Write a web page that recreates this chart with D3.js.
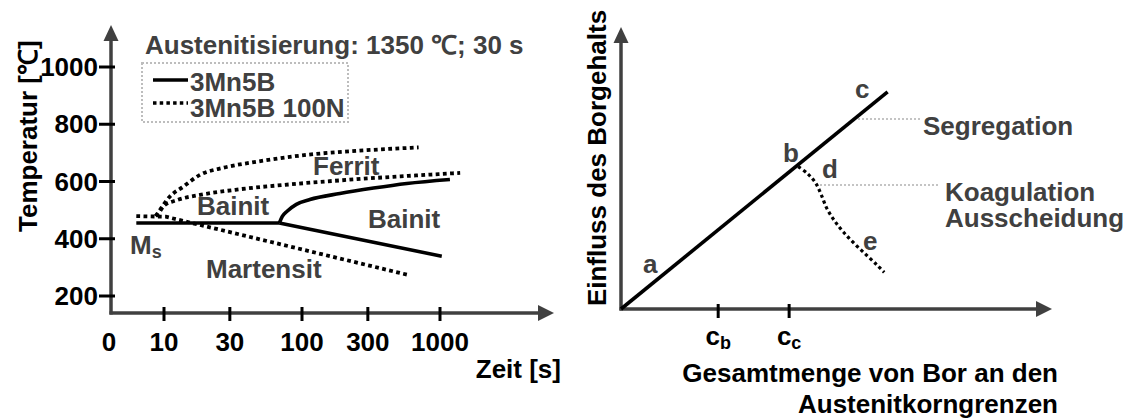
<!DOCTYPE html>
<html>
<head>
<meta charset="utf-8">
<script src="https://cdn.jsdelivr.net/npm/d3@7"></script>
<style>
  html, body { margin: 0; padding: 0; background: #fff; }
  svg { display: block; }
  text { font-family: "Liberation Sans", Arial, sans-serif; font-weight: bold; }
</style>
</head>
<body>
<svg id="chart" width="1130" height="419"></svg>
<script>
// ---- Left panel: ZTU diagram, time (log) vs. temperature ----
const timeTicks = [10, 30, 100, 300, 1000];
const tempTicks = [200, 400, 600, 800, 1000];

// 3Mn5B (solid): [time s, temperature °C]
const solidPlateau = [[6.3, 455], [68.5, 455]];
const solidFerrit = [[68.5, 455], [72, 478], [78, 496], [91, 520], [114, 537], [188, 558], [330, 577], [575, 593], [1180, 607]];
const solidMartensit = [[68.5, 455], [1030, 339]];

// 3Mn5B 100N (dotted)
const dottedMartensit = [[6.3, 479], [10.3, 477], [607, 272]];
const dottedBainit = [[8.7, 479], [9.2, 491], [9.9, 514], [12.4, 535], [18.2, 553], [35.5, 573], [82, 590], [249, 608], [1180, 628], [1400, 630]];
const dottedFerrit = [[8.7, 479], [9.2, 496], [11, 547], [13.8, 582], [18.2, 623], [26.9, 648], [47, 669], [108, 693], [249, 707], [700, 719]];

const legendLabels = ["3Mn5B", "3Mn5B 100N"];

// ---- Right panel: schematic boron effect ----
const boronTickValues = [22.6, 39.1];
const boronTickLabels = [["c", "b"], ["c", "c"]];
const effectLine = [[0, 0], [62, 77]];
const effectDrop = [[41.2, 50.5], [43.4, 48.0], [45.3, 44.6], [46.6, 40.4], [47.9, 35.6], [49.6, 31.4], [51.7, 27.3], [54.4, 23.0], [57.3, 18.8], [59.6, 15.5], [61.2, 13.0]];

const svg = d3.select("#chart");
const DARK = "#404040";
const FS = 26;

function arrowUp(g, x, y) {
  g.append("path").attr("d", `M${x},${y} L${x - 7.5},${y + 16} L${x + 7.5},${y + 16} Z`).attr("fill", DARK);
}
function arrowRight(g, x, y) {
  g.append("path").attr("d", `M${x},${y} L${x - 16},${y - 8} L${x - 16},${y + 8} Z`).attr("fill", DARK);
}
function label(g, x, y, t, anchor) {
  return g.append("text").attr("x", x).attr("y", y).attr("font-size", FS).attr("fill", DARK)
    .attr("text-anchor", anchor || "start").text(t);
}

// ================= LEFT =================
const L = svg.append("g");
const xL = d3.scaleLog().domain([10, 1000]).range([164, 440]);
const yL = d3.scaleLinear().domain([200, 1000]).range([296, 67]);
const originLX = 111, axisLY = 313, topLY = 25, endLX = 554;

// axes
L.append("line").attr("x1", originLX).attr("x2", originLX).attr("y1", axisLY + 1.5).attr("y2", topLY + 10)
  .attr("stroke", DARK).attr("stroke-width", 3.5);
arrowUp(L, originLX, topLY);
L.append("line").attr("x1", originLX - 1.5).attr("x2", endLX - 10).attr("y1", axisLY).attr("y2", axisLY)
  .attr("stroke", DARK).attr("stroke-width", 3.5);
arrowRight(L, endLX, axisLY);

// y ticks
L.selectAll(".yt").data(tempTicks).enter().append("line")
  .attr("x1", originLX - 12).attr("x2", originLX + 4)
  .attr("y1", d => yL(d)).attr("y2", d => yL(d))
  .attr("stroke", "#000").attr("stroke-width", 3);
L.selectAll(".yl").data(tempTicks).enter().append("text")
  .attr("x", originLX - 13).attr("y", d => yL(d)).attr("dy", "0.35em")
  .attr("text-anchor", "end").attr("font-size", FS).attr("fill", "#000").text(d => d);

// x ticks
L.selectAll(".xt").data(timeTicks).enter().append("line")
  .attr("x1", d => xL(d)).attr("x2", d => xL(d))
  .attr("y1", axisLY - 6).attr("y2", axisLY + 8)
  .attr("stroke", "#000").attr("stroke-width", 3);
L.selectAll(".xl").data(timeTicks).enter().append("text")
  .attr("x", d => xL(d)).attr("y", 351)
  .attr("text-anchor", "middle").attr("font-size", FS).attr("fill", "#000").text(d => d);
L.append("text").attr("x", originLX - 2).attr("y", 351).attr("text-anchor", "middle")
  .attr("font-size", FS).attr("fill", "#000").text("0");

// axis titles
L.append("text").attr("transform", `translate(37,232) rotate(-90)`)
  .attr("font-size", FS).attr("fill", "#000").text("Temperatur [℃]");
L.append("text").attr("x", 561).attr("y", 378).attr("text-anchor", "end")
  .attr("font-size", FS).attr("fill", "#000").text("Zeit [s]");

// heading and legend
L.append("text").attr("x", 145).attr("y", 54).attr("font-size", FS).attr("fill", DARK)
  .text("Austenitisierung: 1350 ℃; 30 s");
L.append("rect").attr("x", 142).attr("y", 63).attr("width", 206).attr("height", 59)
  .attr("fill", "none").attr("stroke", "#bdbdbd").attr("stroke-width", 2).attr("stroke-dasharray", "2 2");
L.append("line").attr("x1", 153).attr("x2", 188).attr("y1", 80).attr("y2", 80)
  .attr("stroke", "#000").attr("stroke-width", 3.5);
L.append("line").attr("x1", 153).attr("x2", 188).attr("y1", 103).attr("y2", 103)
  .attr("stroke", "#000").attr("stroke-width", 3.5).attr("stroke-dasharray", "3.5 3.2");
label(L, 190, 90.5, legendLabels[0]);
label(L, 190, 116.5, legendLabels[1]);

// curves
const lineL = d3.line().x(d => xL(d[0])).y(d => yL(d[1])).curve(d3.curveMonotoneX);
const lineLStraight = d3.line().x(d => xL(d[0])).y(d => yL(d[1]));
[solidPlateau, solidMartensit].forEach(c =>
  L.append("path").attr("d", lineLStraight(c)).attr("fill", "none").attr("stroke", "#000").attr("stroke-width", 3.6));
L.append("path").attr("d", lineL(solidFerrit)).attr("fill", "none").attr("stroke", "#000").attr("stroke-width", 3.6);
L.append("path").attr("d", lineLStraight(dottedMartensit)).attr("fill", "none").attr("stroke", "#000")
  .attr("stroke-width", 3.8).attr("stroke-dasharray", "3.8 3.4");
[dottedBainit, dottedFerrit].forEach(c =>
  L.append("path").attr("d", lineL(c)).attr("fill", "none").attr("stroke", "#000")
    .attr("stroke-width", 3.8).attr("stroke-dasharray", "3.8 3.4"));

// phase labels
label(L, 313, 175, "Ferrit");
label(L, 197, 215, "Bainit");
label(L, 368, 228, "Bainit");
label(L, 206, 278, "Martensit");
const ms = L.append("text").attr("x", 130).attr("y", 254).attr("font-size", FS).attr("fill", DARK);
ms.append("tspan").text("M");
ms.append("tspan").attr("font-size", 18).attr("dy", 4).text("s");

// ================= RIGHT =================
const R = svg.append("g");
const xR = d3.scaleLinear().domain([0, 100]).range([621, 1051]);
const yR = d3.scaleLinear().domain([0, 100]).range([309, 27]);
const originRX = xR(0), axisRY = yR(0);

R.append("line").attr("x1", originRX).attr("x2", originRX).attr("y1", axisRY + 1.5).attr("y2", 37)
  .attr("stroke", DARK).attr("stroke-width", 3.5);
arrowUp(R, originRX, 27);
R.append("line").attr("x1", originRX - 1.5).attr("x2", 1042).attr("y1", axisRY).attr("y2", axisRY)
  .attr("stroke", DARK).attr("stroke-width", 3.5);
arrowRight(R, 1052, axisRY);

R.selectAll(".bt").data(boronTickValues).enter().append("line")
  .attr("x1", d => xR(d)).attr("x2", d => xR(d)).attr("y1", axisRY - 5).attr("y2", axisRY + 9)
  .attr("stroke", "#000").attr("stroke-width", 3);
R.selectAll(".bl").data(boronTickValues).enter().append("text")
  .attr("x", d => xR(d)).attr("y", 345).attr("text-anchor", "middle").attr("font-size", FS).attr("fill", "#000")
  .each(function (d, i) {
    const t = d3.select(this);
    t.append("tspan").text(boronTickLabels[i][0]);
    t.append("tspan").attr("font-size", 18).attr("dy", 4).text(boronTickLabels[i][1]);
  });

R.append("text").attr("transform", `translate(606,158) rotate(-90)`).attr("text-anchor", "middle")
  .attr("font-size", FS).attr("fill", "#000").text("Einfluss des Borgehalts");
R.append("text").attr("x", 1058).attr("y", 382).attr("text-anchor", "end")
  .attr("font-size", FS).attr("fill", "#000").text("Gesamtmenge von Bor an den");
R.append("text").attr("x", 1058).attr("y", 413).attr("text-anchor", "end")
  .attr("font-size", FS).attr("fill", "#000").text("Austenitkorngrenzen");

const lineR = d3.line().x(d => xR(d[0])).y(d => yR(d[1]));
R.append("path").attr("d", lineR(effectLine)).attr("fill", "none").attr("stroke", "#000").attr("stroke-width", 3.6);
R.append("path").attr("d", d3.line().x(d => xR(d[0])).y(d => yR(d[1])).curve(d3.curveCatmullRom.alpha(0.5))(effectDrop))
  .attr("fill", "none").attr("stroke", "#000")
  .attr("stroke-width", 3.2).attr("stroke-dasharray", "3.2 3");

// leader lines to the mechanism labels
R.append("line").attr("x1", 858).attr("x2", 921).attr("y1", 119).attr("y2", 119)
  .attr("stroke", "#c4c4c4").attr("stroke-width", 2).attr("stroke-dasharray", "2 2");
R.append("line").attr("x1", 820).attr("x2", 938).attr("y1", 185).attr("y2", 185)
  .attr("stroke", "#c4c4c4").attr("stroke-width", 2).attr("stroke-dasharray", "2 2");

label(R, 643, 273, "a");
label(R, 783, 162, "b");
label(R, 855, 98, "c");
label(R, 822, 178, "d");
label(R, 863, 250, "e");
label(R, 923, 135, "Segregation");
label(R, 945, 201, "Koagulation");
label(R, 945, 227, "Ausscheidung");
</script>
</body>
</html>
